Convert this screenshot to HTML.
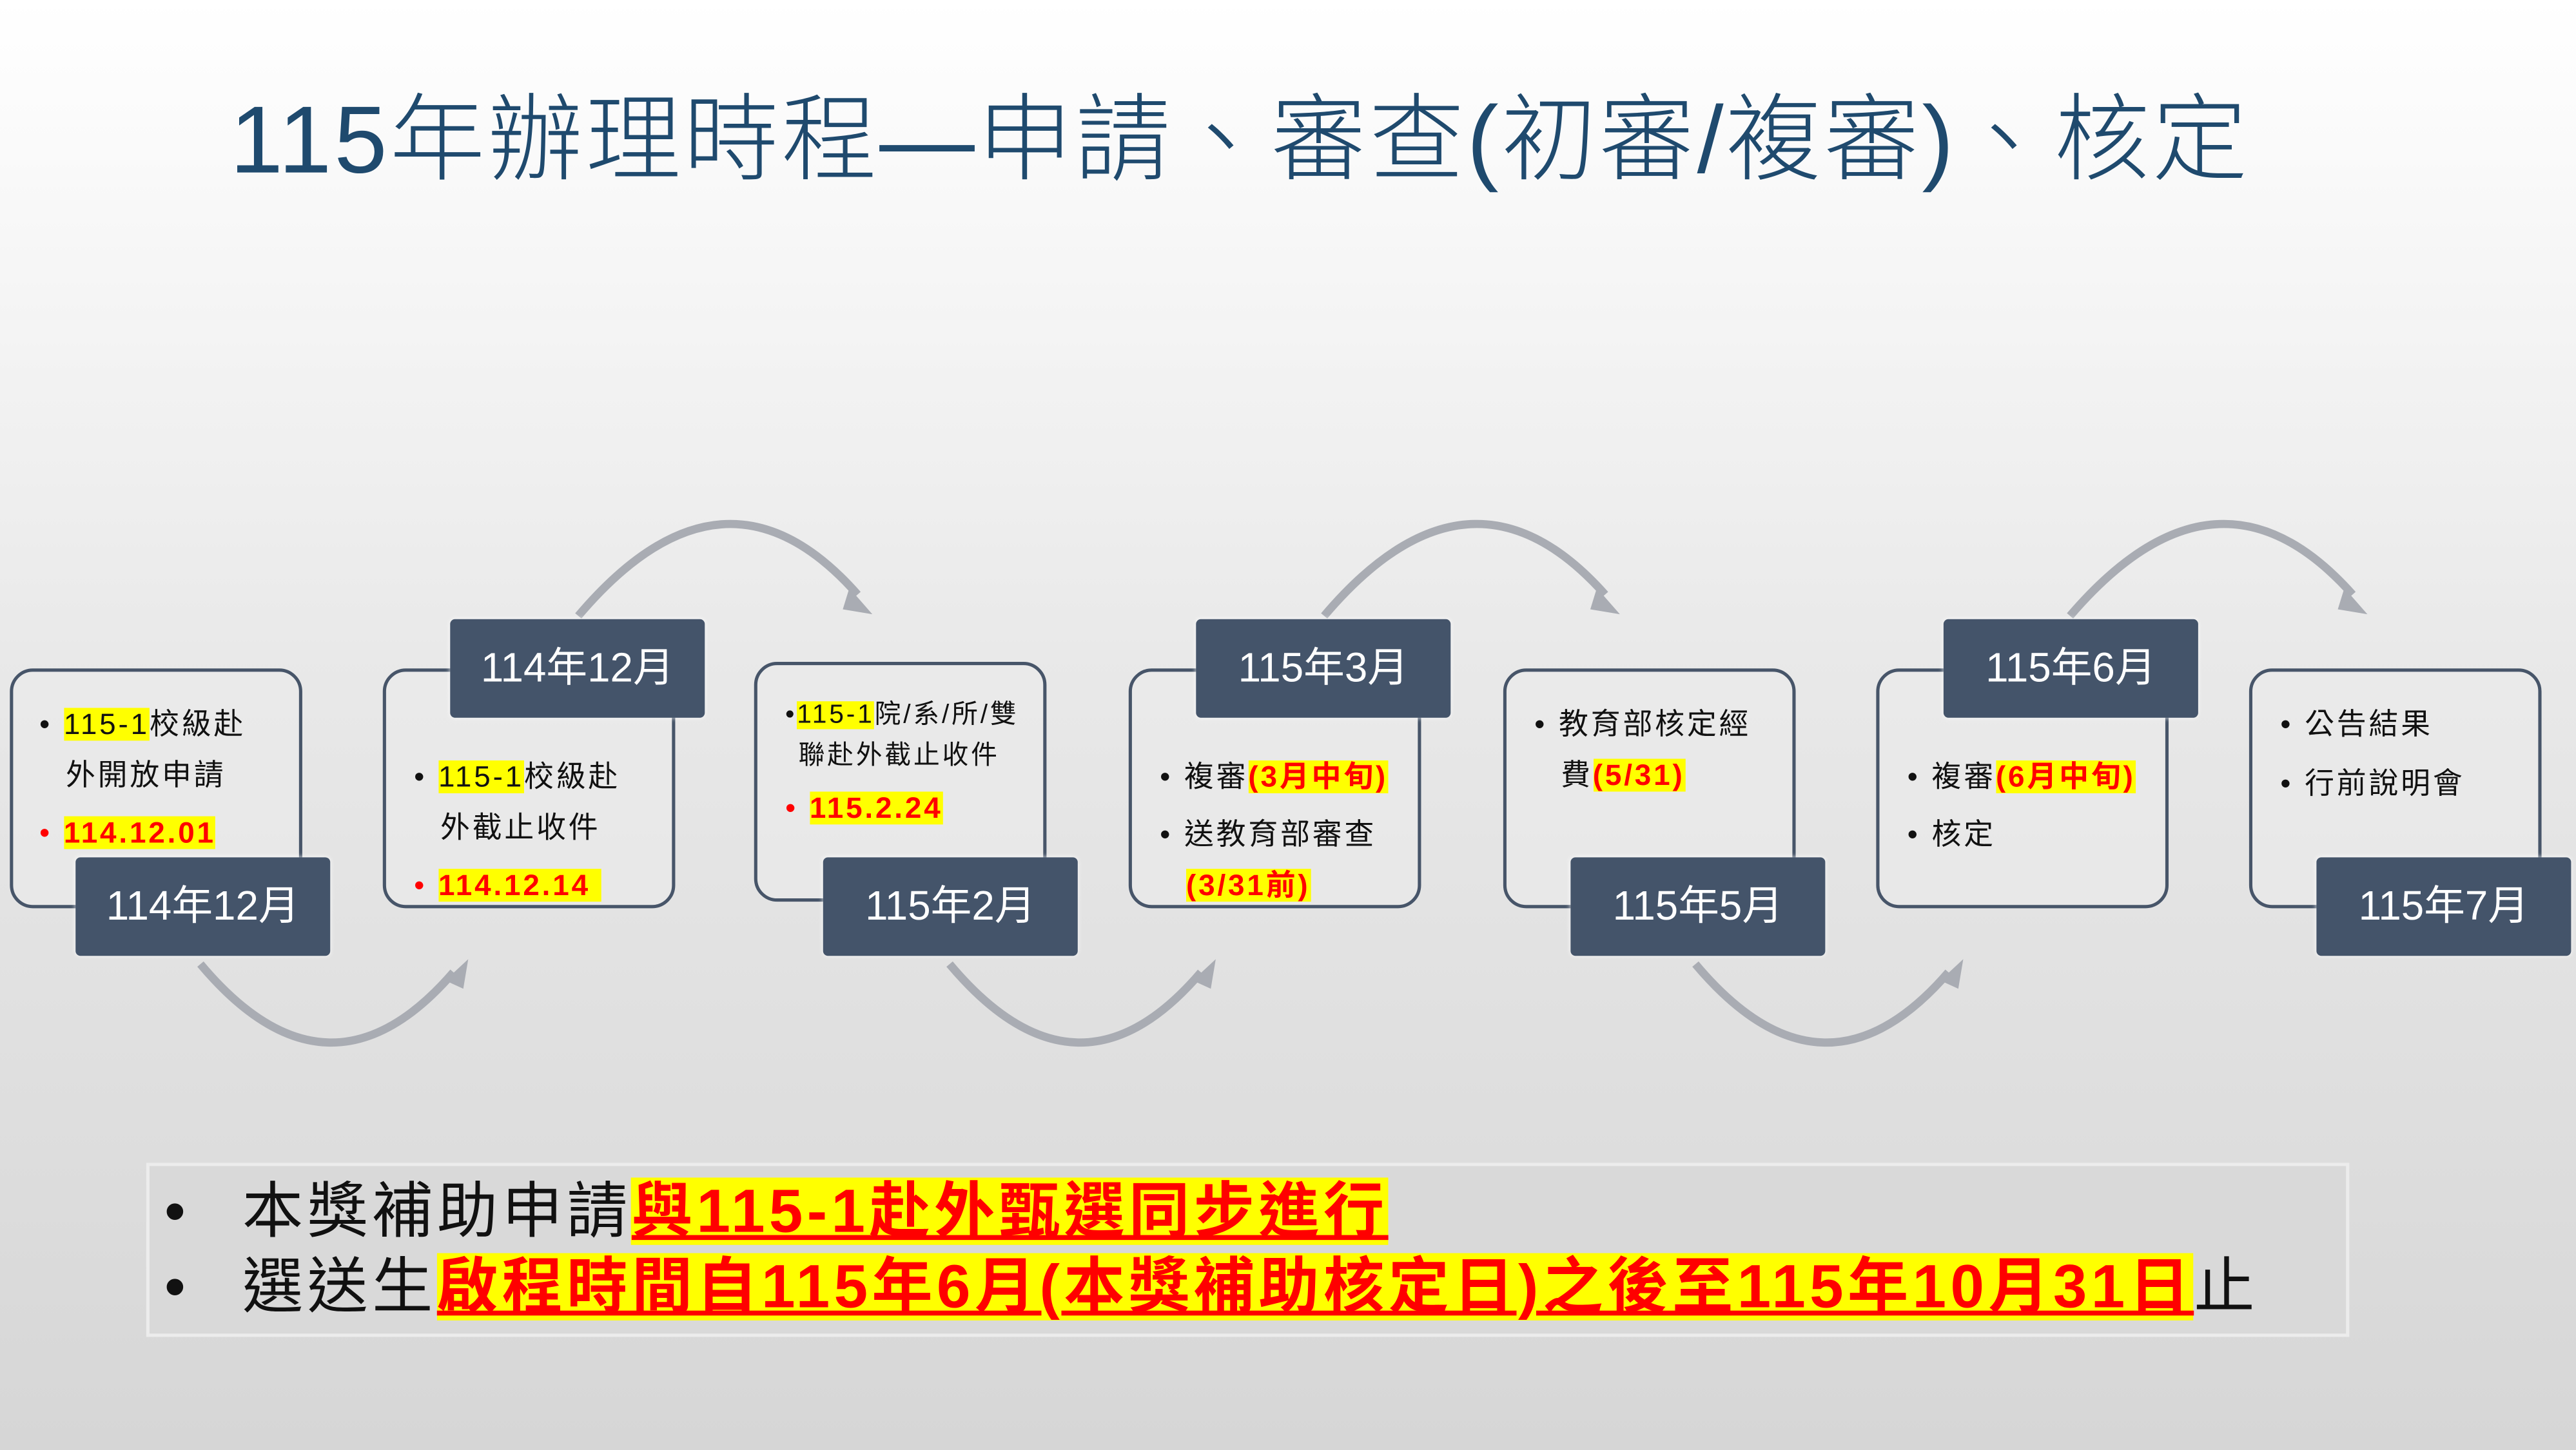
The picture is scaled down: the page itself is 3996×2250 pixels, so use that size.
<!DOCTYPE html>
<html><head><meta charset="utf-8"><style>
html,body{margin:0;padding:0;}
body{width:3996px;height:2250px;overflow:hidden;background:linear-gradient(#ffffff 0%,#e9e9e9 45%,#d6d6d6 100%);}
#s{position:absolute;left:0;top:0;width:1568px;height:883px;transform:scale(2.5485);transform-origin:0 0;font-family:"Liberation Sans","Noto Sans CJK TC",sans-serif;}
.t{position:absolute;left:140px;top:38px;font-size:58px;color:#1f4a6e;white-space:nowrap;letter-spacing:1.6px;font-weight:300;}
.box{position:absolute;width:178px;height:146px;border:2px solid #475569;border-radius:14px;background:rgba(235,235,235,.6);box-sizing:border-box;}
.lab{position:absolute;width:155px;height:60px;background:#44546a;border-radius:3px;color:#fff;font-size:25px;line-height:60px;text-align:center;white-space:nowrap;box-shadow:0 0 3px rgba(255,255,255,.8);}
.tx{position:absolute;font-size:18px;line-height:22px;white-space:nowrap;color:#111;letter-spacing:1.5px;}
.y{background:#ffff00;}
.r{color:#ff0000;font-weight:bold;}
.rb{color:#ff0000;}
.bot{position:absolute;left:89px;top:708px;width:1341px;height:106px;border:2px solid #ececec;background:#d9d9d9;box-sizing:border-box;}
.bl{position:absolute;left:100px;font-size:37px;line-height:44px;white-space:nowrap;color:#111;letter-spacing:2.5px;}
.h{background:#ffff00;color:#ff0000;font-weight:bold;text-decoration:underline;text-decoration-thickness:3px;}
</style></head><body><div id="s">
<div class="t">115年辦理時程—申請、審查(初審/複審)、核定</div>
<svg style="position:absolute;left:0;top:0" width="1568" height="883">
<g fill="none" stroke="#a9acb3" stroke-width="5">
<path d="M352 375 Q441 270 522 362"/>
<path d="M806 375 Q895 270 977 362"/>
<path d="M1260 375 Q1350 270 1432 362"/>
<path d="M122 587 Q200 680 276 592"/>
<path d="M578 587 Q656 680 731 592"/>
<path d="M1032 587 Q1110 680 1186 592"/>
</g>
<g fill="#a9acb3">
<polygon points="517,358 531,374 513,371"/>
<polygon points="972,358 986,374 968,371"/>
<polygon points="1427,358 1441,374 1423,371"/>
<polygon points="271,597 285,584 282,602"/>
<polygon points="726,597 740,584 737,602"/>
<polygon points="1181,597 1195,584 1192,602"/>
</g>
</svg>
<div class="box" style="left:6px;top:407px"></div>
<div class="box" style="left:233px;top:407px"></div>
<div class="box" style="left:459px;top:403px"></div>
<div class="box" style="left:687px;top:407px"></div>
<div class="box" style="left:915px;top:407px"></div>
<div class="box" style="left:1142px;top:407px"></div>
<div class="box" style="left:1369px;top:407px"></div>

<div class="tx" style="left:24px;top:430px">•<span style="display:inline-block;width:7px"></span><span class="y">115-1</span>校級赴</div>
<div class="tx" style="left:40px;top:461px">外開放申請</div>
<div class="tx" style="left:24px;top:496px"><span class="rb">•</span><span style="display:inline-block;width:7px"></span><span class="y r">114.12.01</span></div>

<div class="tx" style="left:252px;top:462px">•<span style="display:inline-block;width:7px"></span><span class="y">115-1</span>校級赴</div>
<div class="tx" style="left:268px;top:493px">外截止收件</div>
<div class="tx" style="left:252px;top:528px"><span class="rb">•</span><span style="display:inline-block;width:7px"></span><span class="y r">114.12.14&nbsp;</span></div>

<div class="tx" style="left:478px;top:425px;font-size:16px">•<span class="y">115-1</span>院/系/所/雙</div>
<div class="tx" style="left:486px;top:450px;font-size:16px">聯赴外截止收件</div>
<div class="tx" style="left:478px;top:481px"><span class="rb">•</span><span style="display:inline-block;width:7px"></span><span class="y r">115.2.24</span></div>

<div class="tx" style="left:706px;top:462px">•<span style="display:inline-block;width:7px"></span>複審<span class="y r">(3月中旬)</span></div>
<div class="tx" style="left:706px;top:497px">•<span style="display:inline-block;width:7px"></span>送教育部審查</div>
<div class="tx" style="left:722px;top:528px"><span class="y r">(3/31前)</span></div>

<div class="tx" style="left:934px;top:430px">•<span style="display:inline-block;width:7px"></span>教育部核定經</div>
<div class="tx" style="left:950px;top:461px">費<span class="y r">(5/31)</span></div>

<div class="tx" style="left:1161px;top:462px">•<span style="display:inline-block;width:7px"></span>複審<span class="y r">(6月中旬)</span></div>
<div class="tx" style="left:1161px;top:497px">•<span style="display:inline-block;width:7px"></span>核定</div>

<div class="tx" style="left:1388px;top:430px">•<span style="display:inline-block;width:7px"></span>公告結果</div>
<div class="tx" style="left:1388px;top:466px">•<span style="display:inline-block;width:7px"></span>行前說明會</div>

<div class="lab" style="left:46px;top:522px">114年12月</div>
<div class="lab" style="left:274px;top:377px">114年12月</div>
<div class="lab" style="left:501px;top:522px">115年2月</div>
<div class="lab" style="left:728px;top:377px">115年3月</div>
<div class="lab" style="left:956px;top:522px">115年5月</div>
<div class="lab" style="left:1183px;top:377px">115年6月</div>
<div class="lab" style="left:1410px;top:522px">115年7月</div>

<div class="bot"></div>
<div class="bl" style="top:716px">•<span style="display:inline-block;width:32px"></span>本獎補助申請<span class="h">與115-1赴外甄選同步進行</span></div>
<div class="bl" style="top:762px">•<span style="display:inline-block;width:32px"></span>選送生<span class="h">啟程時間自115年6月(本獎補助核定日)之後至115年10月31日</span>止</div>
</div></body></html>
